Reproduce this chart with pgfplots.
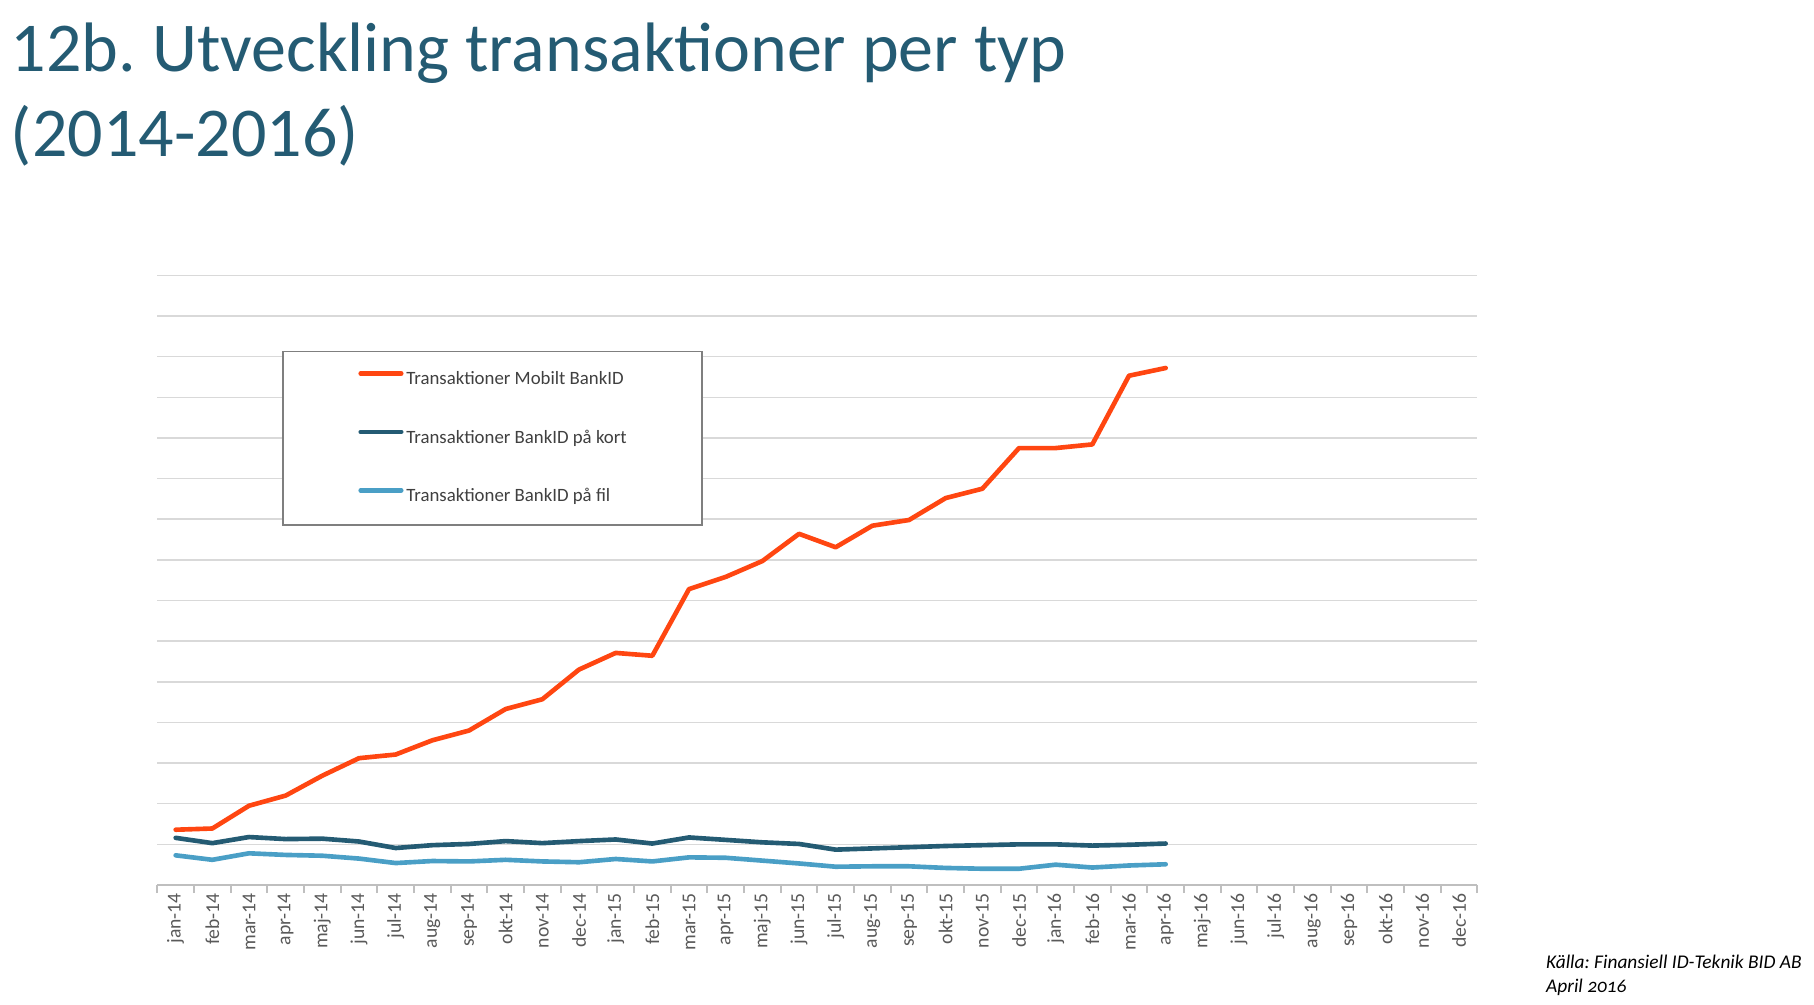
\documentclass[border=0pt]{standalone}
\usepackage{pgfplots}
\pgfplotsset{compat=1.18}
\usepackage{fontspec}
\setmainfont{Carlito}
\newfontfamily\srcfont[Numbers=OldStyle]{Carlito}
\frenchspacing

\definecolor{mobilorange}{HTML}{FF4611}
\definecolor{kortblue}{HTML}{245B73}
\definecolor{filblue}{HTML}{4A9FC6}
\definecolor{titleblue}{HTML}{245B73}
\definecolor{gridgray}{HTML}{D9D9D9}
\definecolor{axisgray}{HTML}{BFBFBF}
\definecolor{boxgray}{HTML}{7F7F7F}
\definecolor{legtext}{HTML}{404040}
\definecolor{ticktext}{HTML}{595959}

% month index / value, index 0 = jan-14
\pgfplotstableread{
x y
0 1.36
1 1.39
2 1.95
3 2.20
4 2.69
5 3.12
6 3.21
7 3.56
8 3.80
9 4.33
10 4.57
11 5.30
12 5.71
13 5.64
14 7.28
15 7.58
16 7.97
17 8.64
18 8.31
19 8.84
20 8.98
21 9.52
22 9.75
23 10.75
24 10.75
25 10.84
26 12.53
27 12.72
}\mobil

\pgfplotstableread{
x y
0 1.16
1 1.03
2 1.18
3 1.13
4 1.14
5 1.07
6 0.91
7 0.98
8 1.01
9 1.08
10 1.03
11 1.08
12 1.12
13 1.02
14 1.17
15 1.11
16 1.05
17 1.01
18 0.87
19 0.90
20 0.93
21 0.96
22 0.98
23 1.00
24 1.00
25 0.97
26 0.99
27 1.02
}\kort

\pgfplotstableread{
x y
0 0.73
1 0.62
2 0.78
3 0.74
4 0.72
5 0.65
6 0.54
7 0.59
8 0.58
9 0.62
10 0.58
11 0.56
12 0.64
13 0.58
14 0.68
15 0.67
16 0.60
17 0.53
18 0.45
19 0.46
20 0.46
21 0.42
22 0.40
23 0.40
24 0.50
25 0.43
26 0.48
27 0.51
}\fil

\begin{document}
\begin{tikzpicture}
\useasboundingbox (-54.4pt,-41.2pt) rectangle (572.8pt,306pt);

\begin{axis}[
  at={(0,0)}, anchor=south west,
  width=456.4pt, height=210.8pt, scale only axis,
  xmin=-0.5, xmax=35.5, ymin=0, ymax=15,
  axis x line*=bottom, axis y line*=left,
  x axis line style={-, draw=axisgray, line width=0.7pt},
  y axis line style={draw=none},
  xtick={0,...,35},
  xticklabels={jan-14,feb-14,mar-14,apr-14,maj-14,jun-14,jul-14,aug-14,sep-14,okt-14,nov-14,dec-14,
    jan-15,feb-15,mar-15,apr-15,maj-15,jun-15,jul-15,aug-15,sep-15,okt-15,nov-15,dec-15,
    jan-16,feb-16,mar-16,apr-16,maj-16,jun-16,jul-16,aug-16,sep-16,okt-16,nov-16,dec-16},
  minor xtick={-0.5,0.5,...,35.5},
  ytick={0,...,15}, yticklabels={},
  major tick length=0pt, minor tick length=2.8pt, tick align=outside,
  minor tick style={draw=axisgray, line width=0.6pt},
  ymajorgrids, major grid style={draw=gridgray, line width=0.5pt},
  xticklabel style={rotate=90, anchor=east, inner sep=0pt,
    font=\fontsize{6.8}{8}\selectfont, text=ticktext},
  xticklabel shift=2.6pt,
  legend style={at={(rel axis cs:0.0947,0.8767)}, anchor=north west,
    draw=boxgray, line width=0.6pt, fill=white,
    inner xsep=26pt, inner ysep=6.6pt, row sep=13.7pt, column sep=1pt,
    font=\fontsize{6.5}{8}\selectfont, text=legtext,
    nodes={inner sep=0pt, text height=5pt, text depth=1.5pt}},
  legend cell align=left,
  legend image code/.code={\draw[#1, line width=1.6pt] (0pt,2.2pt) -- (14pt,2.2pt);},
  every axis plot/.append style={line width=1.6pt, line cap=round, line join=round},
]
\addplot[mobilorange] table[x=x, y=y] {\mobil};
\addlegendentry{Transaktioner Mobilt BankID}
\addplot[kortblue] table[x=x, y=y] {\kort};
\addlegendentry{Transaktioner BankID på kort}
\addplot[filblue] table[x=x, y=y] {\fil};
\addlegendentry{Transaktioner BankID på fil}
\end{axis}

\node[anchor=base west, inner sep=0pt, text=titleblue, font=\fontsize{24.2}{29}\selectfont]
  at (-50.8pt,281.2pt) {12b. Utveckling transaktioner per typ};
\node[anchor=base west, inner sep=0pt, text=titleblue, font=\fontsize{24.2}{29}\selectfont]
  at (-50.8pt,252pt) {(2014-2016)};

\node[anchor=base west, inner sep=0pt, font=\srcfont\itshape\fontsize{6.7}{8}\selectfont]
  at (480pt,-28.8pt) {Källa: Finansiell ID-Teknik BID AB};
\node[anchor=base west, inner sep=0pt, font=\srcfont\itshape\fontsize{6.7}{8}\selectfont]
  at (480pt,-37.2pt) {April 2016};
\end{tikzpicture}
\end{document}
